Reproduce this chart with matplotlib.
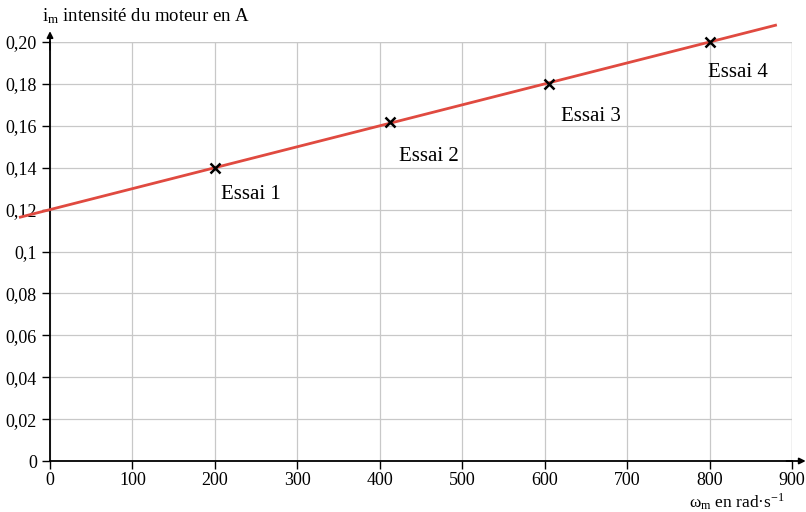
import matplotlib
matplotlib.use("Agg")
import matplotlib.pyplot as plt

plt.rcParams['font.family'] = ['Liberation Serif', 'DejaVu Serif']
plt.rcParams['mathtext.fontset'] = 'stix'

# données
omega_essais = [200, 413, 605, 800]
i_essais = [0.140, 0.162, 0.180, 0.200]
noms_essais = ["Essai 1", "Essai 2", "Essai 3", "Essai 4"]
pos_labels = [(208, 0.127), (423, 0.1455), (620, 0.1645), (798, 0.1855)]

# droite de tendance i = 0.12 + 1e-4 * omega
omega_droite = [-36, 880]
i_droite = [0.12 + 1e-4 * w for w in omega_droite]

xticks = [0, 100, 200, 300, 400, 500, 600, 700, 800, 900]
yticks = [0, 0.02, 0.04, 0.06, 0.08, 0.10, 0.12, 0.14, 0.16, 0.18, 0.20]
ytick_labels = ["0", "0,02", "0,04", "0,06", "0,08", "0,1", "0,12", "0,14", "0,16", "0,18", "0,20"]

fig = plt.figure(figsize=(8.06, 5.12), dpi=100)
ax = fig.add_axes([50/806, 1 - 461/512, (792 - 50)/806, (461 - 42)/512])

ax.set_xlim(0, 900)
ax.set_ylim(0, 0.20)
ax.set_xticks(xticks)
ax.set_yticks(yticks)
ax.set_yticklabels(ytick_labels)
ax.grid(True, color='#c8c8c8', linewidth=0.9)
ax.tick_params(direction='out', length=6, width=1, colors='black', labelsize=13)
ax.tick_params(axis='x', pad=2)

for s in ['top', 'right']:
    ax.spines[s].set_visible(False)
ax.spines['left'].set_linewidth(1.3)
ax.spines['bottom'].set_linewidth(1.3)

# gridlines at the outer edges
ax.axvline(900, color='#c8c8c8', linewidth=0.9)
ax.axhline(0.20, color='#c8c8c8', linewidth=0.9)

# axis arrows
ax.annotate('', xy=(0, 0.2065), xytext=(0, 0.195), annotation_clip=False,
            arrowprops=dict(arrowstyle='-|>', color='black', lw=1.3, mutation_scale=9))
ax.annotate('', xy=(920, 0), xytext=(890, 0), annotation_clip=False,
            arrowprops=dict(arrowstyle='-|>', color='black', lw=1.3, mutation_scale=9))

ax.plot(omega_droite, i_droite, color='#e04a40', linewidth=2, clip_on=False, zorder=3)
ax.plot(omega_essais, i_essais, 'x', color='black', markersize=7, markeredgewidth=1.8,
        clip_on=False, zorder=4)

for nom, (px, py) in zip(noms_essais, pos_labels):
    ax.text(px, py, nom, fontsize=15, ha='left', va='center')

fig.text(42/806, 1 - 16/512, r"$\mathregular{i_m}$ intensité du moteur en A",
         fontsize=13.5, ha='left', va='center')
fig.text(785/806, 1 - 502/512, r"$\mathregular{\omega_m}$ en rad·s$^{\mathregular{-1}}$",
         fontsize=12.5, ha='right', va='center')

fig.savefig("out.png", dpi=100)
